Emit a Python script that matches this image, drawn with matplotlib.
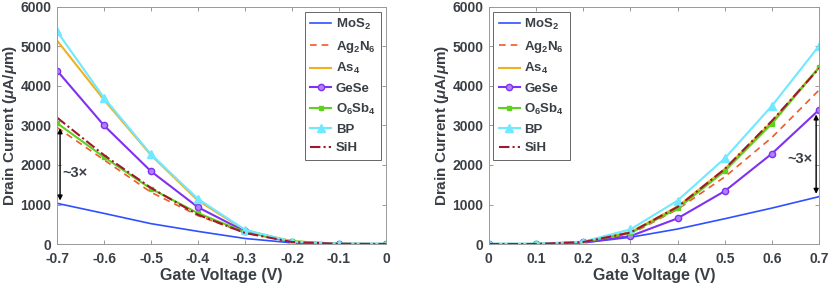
import matplotlib.pyplot as plt

plt.rcParams['font.family'] = ['Liberation Sans', 'DejaVu Sans']
plt.rcParams['font.weight'] = 'bold'
plt.rcParams['axes.labelweight'] = 'bold'
plt.rcParams['mathtext.fontset'] = 'custom'
plt.rcParams['mathtext.it'] = 'Liberation Sans:italic:bold'
plt.rcParams['mathtext.rm'] = 'Liberation Sans:bold'
plt.rcParams['mathtext.bf'] = 'Liberation Sans:bold'

txt = '#3a3f45'

# dados
vg_p = [-0.7, -0.6, -0.5, -0.4, -0.3, -0.2, -0.1, 0.0]
vg_n = [0.0, 0.1, 0.2, 0.3, 0.4, 0.5, 0.6, 0.7]

nomes = ['MoS$_2$', 'Ag$_2$N$_6$', 'As$_4$', 'GeSe', 'O$_6$Sb$_4$', 'BP', 'SiH']

mos2_p = [1030, 775, 515, 320, 140, 30, 0, 0]
ag2n6_p = [2950, 2130, 1310, 720, 280, 60, 5, 0]
as4_p = [5150, 3650, 2250, 1100, 350, 70, 5, 0]
gese_p = [4390, 3000, 1840, 930, 320, 50, 5, 0]
o6sb4_p = [3060, 2200, 1400, 780, 300, 70, 5, 0]
bp_p = [5380, 3700, 2270, 1140, 360, 60, 10, 10]
sih_p = [3200, 2250, 1420, 740, 280, 50, 5, 0]

mos2_n = [0, 0, 30, 170, 380, 640, 910, 1200]
ag2n6_n = [0, 0, 40, 250, 880, 1700, 2700, 3900]
as4_n = [0, 0, 50, 300, 950, 1900, 3100, 4480]
gese_n = [0, 0, 40, 200, 650, 1340, 2290, 3400]
o6sb4_n = [0, 0, 50, 280, 900, 1850, 3050, 4470]
bp_n = [10, 10, 60, 370, 1100, 2170, 3500, 5020]
sih_n = [0, 0, 50, 290, 940, 1900, 3120, 4450]

estilos = [
    dict(color='#3050ff', ls='-', lw=1.2),
    dict(color='#f05a28', ls=(0, (4, 3)), lw=1.2),
    dict(color='#f0b020', ls='-', lw=1.5),
    dict(color='#8030f0', ls='-', lw=1.5, marker='o', ms=4.5, mfc='#b080ff', mec='#8030f0'),
    dict(color='#60d020', ls='-', lw=1.5, marker='s', ms=2.5),
    dict(color='#70e8ff', ls='-', lw=1.5, marker='^', ms=5.5),
    dict(color='#a01830', ls=(0, (5, 1.5, 1, 1.5)), lw=1.5),
]

fig = plt.figure(figsize=(8.3, 2.91), dpi=100)
ax1 = fig.add_axes([0.0687, 0.1615, 0.3963, 0.8145])
ax2 = fig.add_axes([0.589, 0.1615, 0.398, 0.8145])

for ax, x, series in [(ax1, vg_p, [mos2_p, ag2n6_p, as4_p, gese_p, o6sb4_p, bp_p, sih_p]),
                      (ax2, vg_n, [mos2_n, ag2n6_n, as4_n, gese_n, o6sb4_n, bp_n, sih_n])]:
    for nome, y, st in zip(nomes, series, estilos):
        ax.plot(x, y, label=nome, **st)
    ax.set_ylim(0, 6000)
    ax.set_yticks([0, 1000, 2000, 3000, 4000, 5000, 6000])
    ax.set_xticks(x)
    ax.set_xticklabels(['0' if v == 0 else f'{v:g}' for v in x], fontweight='bold')
    ax.set_yticklabels([str(v) for v in ax.get_yticks().astype(int)], fontweight='bold')
    ax.tick_params(direction='in', top=True, right=True, length=3, width=0.6,
                   labelsize=10, colors='#888888', labelcolor=txt)
    ax.tick_params(axis='x', pad=6)
    ax.tick_params(axis='y', pad=4)
    for s in ax.spines.values():
        s.set_color('#999999')
        s.set_linewidth(0.7)
    ax.set_xlabel('Gate Voltage (V)', fontsize=11.5, color=txt, labelpad=1, fontweight='bold')
    ax.set_ylabel(r'Drain Current ($\mu$A/$\mu$m)', fontsize=11, color=txt, labelpad=1,
                  fontweight='bold')

ax1.set_xlim(-0.7, 0)
ax2.set_xlim(0, 0.7)

props = dict(size=9.5, weight='bold')
kw = dict(prop=props, handlelength=1.6, handletextpad=0.35, labelspacing=0.5,
          borderpad=0.4, borderaxespad=0.35, fancybox=False, framealpha=1,
          edgecolor='#666666')
leg1 = ax1.legend(loc='upper right', **kw)
leg2 = ax2.legend(loc='upper left', **kw)
for leg in (leg1, leg2):
    leg.get_frame().set_linewidth(0.7)
    for t in leg.get_texts():
        t.set_color(txt)

# setas ~3x
ax1.annotate('', xy=(-0.6935, 1030), xytext=(-0.6935, 3000),
             arrowprops=dict(arrowstyle='<|-|>', color='black', lw=1.0, mutation_scale=7))
ax1.text(-0.688, 1800, '~3×', fontsize=10.5, color=txt, va='center', ha='left',
         fontweight='bold')
ax2.annotate('', xy=(0.6935, 1200), xytext=(0.6935, 3350),
             arrowprops=dict(arrowstyle='<|-|>', color='black', lw=1.0, mutation_scale=7))
ax2.text(0.686, 2150, '~3×', fontsize=10.5, color=txt, va='center', ha='right',
         fontweight='bold')

fig.savefig('out.png', dpi=100)
